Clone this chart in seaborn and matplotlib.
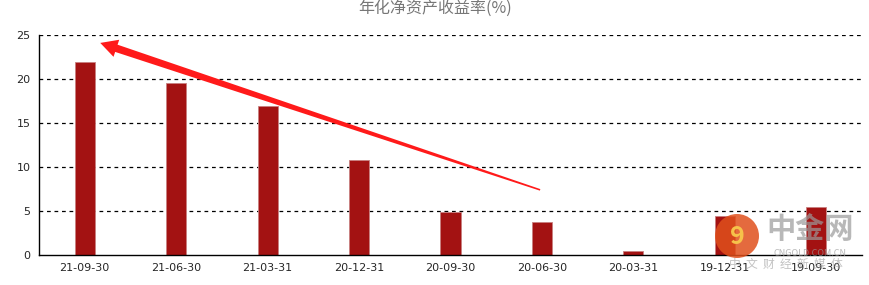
import matplotlib
matplotlib.use("Agg")
import matplotlib.pyplot as plt
import seaborn as sns
import pandas as pd
import numpy as np
from matplotlib.patches import Circle, Polygon
from matplotlib.transforms import IdentityTransform

periods = ["21-09-30", "21-06-30", "21-03-31", "20-12-31", "20-09-30",
           "20-06-30", "20-03-31", "19-12-31", "19-09-30"]
roe = [21.9, 19.6, 16.9, 10.8, 4.9, 3.8, 0.4, 4.4, 5.4]
title = "年化净资产收益率(%)"
yticks = [0, 5, 10, 15, 20, 25]

df = pd.DataFrame({"period": periods, "roe": roe})

sns.set_style("white")
plt.rcParams["font.family"] = ["Noto Sans CJK SC", "DejaVu Sans"]

fig = plt.figure(figsize=(8.7, 2.85), dpi=100)
ax = fig.add_axes([0.0448, 0.1053, 0.946, 0.7719])

sns.barplot(data=df, x="period", y="roe", color="#A31212", width=0.22,
            saturation=1, ax=ax, edgecolor="#C88080", linewidth=0.6)

ax.set_ylim(0, 25)
ax.set_xlim(-0.5, len(periods) - 0.5)
ax.set_yticks(yticks)
ax.set_yticklabels([str(t) for t in yticks], fontsize=8, family="DejaVu Sans")
ax.set_xticks(range(len(periods)))
ax.set_xticklabels(periods, fontsize=8, family="DejaVu Sans")
ax.tick_params(axis="both", length=0, pad=6)
ax.set_xlabel("")
ax.set_ylabel("")
for y in yticks[1:]:
    ax.axhline(y, color="black", linestyle=(0, (3, 3)), linewidth=0.9, zorder=0)
for s in ["top", "right"]:
    ax.spines[s].set_visible(False)
ax.spines["left"].set_color("black")
ax.spines["bottom"].set_color("black")
ax.spines["left"].set_linewidth(1)
ax.spines["bottom"].set_linewidth(1)

fig.text(0.5, 0.97, title, ha="center", va="center", fontsize=11.5, color="#777777")

# red tapered trend arrow (annotation), endpoints in data coordinates
fig.canvas.draw()
tail = ax.transData.transform((4.98, 7.4))
tip = ax.transData.transform((0.17, 24.1))
d = tip - tail
L = np.hypot(*d)
u = d / L
n = np.array([-u[1], u[0]])
head_len = 17
base = tip - u * head_len
pts = [tail + n * 0.8,
       base + n * 3.8,
       base + n * 9,
       tip,
       base - n * 9,
       base - n * 3.8,
       tail - n * 0.8]
arrow = Polygon(pts, closed=True, transform=IdentityTransform(),
                facecolor="#FF1A1A", edgecolor="none", zorder=5)
fig.patches.append(arrow)

# watermark
H = 285
fig.patches.append(Circle((737, H - 236), 22, transform=IdentityTransform(),
                          facecolor="#E0501C", edgecolor="none", alpha=0.85, zorder=6))
fig.text(737 / 870, 1 - 237 / H, "9", ha="center", va="center", fontsize=18,
         color="#F6C24A", fontweight="bold", zorder=7)
fig.text(810 / 870, 1 - 229 / H, "中金网", ha="center", va="center", fontsize=21,
         color="#9A9A9A", alpha=0.7, fontweight="bold", zorder=7)
fig.text(810 / 870, 1 - 254 / H, "CNGOLD.COM.CN", ha="center", va="center", fontsize=6.5,
         color="#9A9A9A", alpha=0.7, zorder=7)
fig.text(786 / 870, 1 - 264 / H, "中  文  财  经  新  媒  体", ha="center", va="center",
         fontsize=8.5, color="#9A9A9A", alpha=0.6, zorder=7)

fig.savefig("out.png", dpi=100)
